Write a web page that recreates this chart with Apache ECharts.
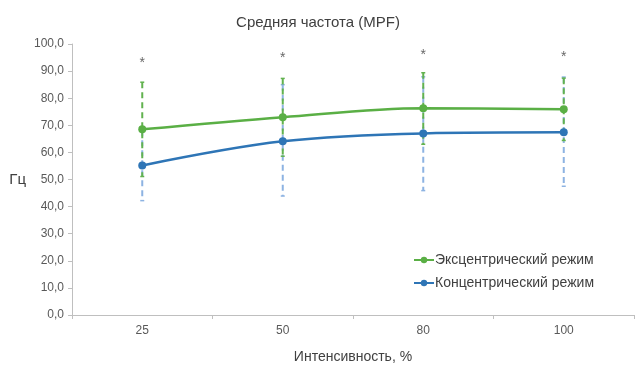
<!DOCTYPE html>
<html><head><meta charset="utf-8">
<script src="https://cdn.jsdelivr.net/npm/echarts@6/dist/echarts.min.js"></script>
<style>html,body{margin:0;padding:0;background:#fff}#c{width:636px;height:365px}</style>
</head><body><div id="c"></div>
<script>
const categories = ['25', '50', '80', '100'];
const eccentric = [68.5, 73.0, 76.3, 75.9];
const concentric = [55.2, 64.1, 67.0, 67.4];
const eccHigh = [85.9, 87.3, 89.4, 87.4];
const eccLow = [51.1, 58.6, 63.0, 64.4];
const conHigh = [68.2, 85.0, 87.9, 87.8];
const conLow = [42.2, 43.9, 45.9, 47.5];
const starPos = [93.0, 94.8, 95.9, 95.2];
const yTicks = [0, 10, 20, 30, 40, 50, 60, 70, 80, 90, 100];

const green = '#5aaf45';
const blue = '#2e75b6';
const greenErr = '#62b24f';
const blueErr = '#8db3e2';

function errSeries(high, low, color, z) {
  return {
    type: 'custom', z: z, silent: true,
    data: categories.map((c, i) => [i, low[i], high[i]]),
    renderItem: function (params, api) {
      const top = api.coord([api.value(0), api.value(2)]);
      const bot = api.coord([api.value(0), api.value(1)]);
      const x = top[0];
      const st = {stroke: color, lineWidth: 2, lineDash: [6, 4]};
      const cap = {stroke: color, lineWidth: 1.5};
      return {type: 'group', children: [
        {type: 'line', shape: {x1: x, y1: top[1], x2: x, y2: bot[1]}, style: st},
        {type: 'line', shape: {x1: x - 2, y1: top[1], x2: x + 2, y2: top[1]}, style: cap},
        {type: 'line', shape: {x1: x - 2, y1: bot[1], x2: x + 2, y2: bot[1]}, style: cap}
      ]};
    }
  };
}

const chart = echarts.init(document.getElementById('c'));
chart.setOption({
  animation: false,
  backgroundColor: '#fff',
  title: {text: 'Средняя частота (MPF)', left: 'center', top: 10,
    textStyle: {fontFamily: 'Liberation Sans, Arial', fontSize: 15, fontWeight: 'normal', color: '#404040'}},
  grid: {left: 72, right: 2, top: 44, bottom: 50, containLabel: false, outerBoundsMode: 'none'},
  legend: {
    orient: 'vertical', left: 408, top: 248, itemGap: 9, itemWidth: 20, itemHeight: 8,
    data: ['Эксцентрический режим', 'Концентрический режим'],
    textStyle: {fontFamily: 'Liberation Sans, Arial', fontSize: 14, color: '#404040', padding: [0, 0, 0, -4]}
  },
  xAxis: {
    type: 'category', data: categories, boundaryGap: true,
    name: 'Интенсивность, %', nameLocation: 'middle', nameGap: 35,
    nameTextStyle: {fontFamily: 'Liberation Sans, Arial', fontSize: 14, color: '#404040'},
    axisLine: {lineStyle: {color: '#bfbfbf', width: 1}},
    axisTick: {show: true, inside: false, length: 4, lineStyle: {color: '#bfbfbf'}},
    axisLabel: {fontFamily: 'Liberation Sans, Arial', fontSize: 12, color: '#595959', margin: 10}
  },
  yAxis: {
    type: 'value', min: yTicks[0], max: yTicks[yTicks.length - 1], interval: 10,
    name: 'Гц', nameLocation: 'middle', nameGap: 46, nameRotate: 0,
    nameTextStyle: {fontFamily: 'Liberation Sans, Arial', fontSize: 15, color: '#404040'},
    axisLine: {show: true, lineStyle: {color: '#bfbfbf', width: 1}},
    axisTick: {show: true, length: 4, lineStyle: {color: '#bfbfbf'}},
    splitLine: {show: false},
    axisLabel: {fontFamily: 'Liberation Sans, Arial', fontSize: 12, color: '#595959', margin: 8,
      formatter: v => v.toFixed(1).replace('.', ',')}
  },
  series: [
    errSeries(conHigh, conLow, blueErr, 2),
    errSeries(eccHigh, eccLow, greenErr, 3),
    {name: 'Эксцентрический режим', type: 'line', data: eccentric, smooth: 0.35, z: 5,
      symbol: 'circle', symbolSize: 8, itemStyle: {color: green}, lineStyle: {color: green, width: 2.5}},
    {name: 'Концентрический режим', type: 'line', data: concentric, smooth: 0.35, z: 5,
      symbol: 'circle', symbolSize: 8, itemStyle: {color: blue}, lineStyle: {color: blue, width: 2.5}},
    {type: 'scatter', data: starPos, symbolSize: 0, silent: true,
      label: {show: true, formatter: '*', position: 'inside', fontFamily: 'Liberation Sans, Arial',
        fontSize: 14, color: '#404040'}}
  ]
});
</script></body></html>
